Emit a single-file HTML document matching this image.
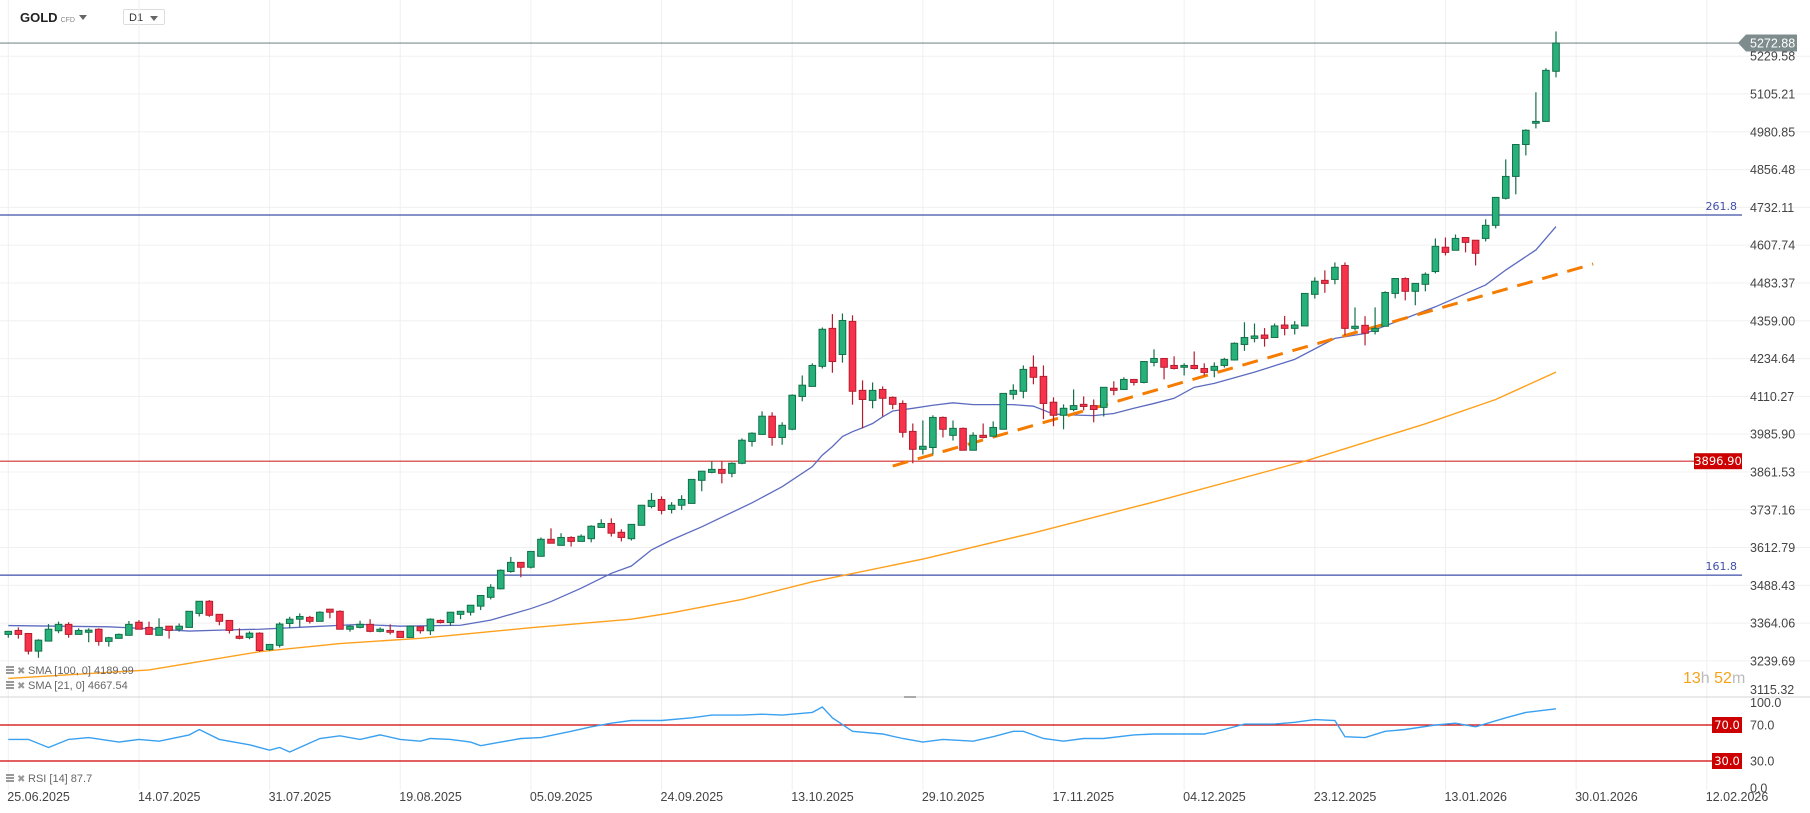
<!DOCTYPE html>
<html><head><meta charset="utf-8">
<style>
html,body{margin:0;padding:0;background:#fff;}
body{width:1810px;height:813px;overflow:hidden;position:relative;font-family:"Liberation Sans",sans-serif;}
#hdr{position:absolute;left:0;top:0;height:34px;width:300px;}
.sym{position:absolute;left:20px;top:10px;font-size:13px;font-weight:bold;color:#222;}
.sym small{font-size:7px;color:#888;font-weight:normal;margin-left:3px;}
.dd{position:absolute;left:79px;top:15px;width:0;height:0;border-left:4px solid transparent;border-right:4px solid transparent;border-top:5px solid #666;}
.tf{position:absolute;left:123px;top:9px;width:42px;height:16px;border:1px solid #ddd;border-radius:2px;font-size:11px;color:#333;line-height:16px;padding-left:5px;box-sizing:border-box;}
.tf:after{content:"";position:absolute;right:6px;top:6px;border-left:4px solid transparent;border-right:4px solid transparent;border-top:5px solid #666;}
svg{position:absolute;left:0;top:0;}
</style></head>
<body>
<div id="hdr">
  <div class="sym">GOLD<small>CFD</small></div>
  <div class="dd"></div>
  <div class="tf">D1</div>
</div>
<svg id="chart" width="1810" height="813"></svg>
<script>
const opens=[3327,3340,3330,3272,3305,3339,3360,3327,3334,3344,3304,3314,3324,3367,3350,3324,3354,3344,3350,3396,3436,3393,3373,3321,3317,3331,3277,3291,3363,3377,3383,3370,3410,3403,3344,3350,3360,3337,3340,3337,3317,3352,3339,3373,3366,3393,3400,3420,3449,3477,3534,3564,3548,3584,3640,3620,3646,3633,3642,3679,3692,3663,3642,3686,3748,3771,3738,3752,3758,3834,3860,3870,3857,3890,3962,3985,4045,3975,4002,4110,4143,4209,4334,4248,4357,4130,4097,4133,4107,4087,3995,3936,3942,4041,3982,4005,3933,3982,3979,4002,4117,4127,4206,4176,4091,4048,4067,4084,4080,4074,4137,4133,4166,4156,4222,4235,4212,4206,4212,4202,4196,4212,4230,4281,4301,4312,4304,4345,4334,4342,4446,4492,4495,4541,4334,4344,4324,4341,4449,4498,4456,4479,4521,4601,4591,4633,4624,4630,4673,4762,4834,4939,5009,5015,5180];
const highs=[3337,3350,3330,3311,3361,3369,3367,3347,3347,3347,3319,3330,3371,3374,3369,3380,3354,3363,3403,3436,3440,3393,3373,3347,3337,3334,3294,3367,3385,3396,3388,3403,3410,3406,3357,3372,3377,3350,3360,3337,3356,3352,3380,3376,3400,3403,3423,3455,3492,3541,3582,3564,3600,3646,3676,3660,3650,3656,3686,3706,3709,3673,3689,3752,3792,3781,3762,3785,3837,3864,3896,3896,3893,3972,3992,4061,4058,4025,4117,4179,4219,4337,4381,4383,4377,4163,4156,4143,4110,4097,4021,4031,4048,4044,4031,4008,3992,4021,4028,4120,4150,4212,4245,4212,4107,4084,4133,4110,4100,4140,4160,4173,4166,4225,4265,4235,4242,4219,4258,4219,4222,4237,4288,4354,4350,4335,4350,4375,4358,4449,4502,4525,4551,4551,4403,4374,4403,4456,4498,4502,4482,4518,4630,4633,4643,4633,4624,4693,4765,4890,4939,4989,5111,5190,5311];
const lows=[3316,3313,3261,3250,3305,3331,3316,3327,3301,3290,3287,3314,3324,3344,3325,3324,3313,3336,3350,3386,3385,3357,3330,3311,3311,3270,3273,3284,3347,3352,3363,3370,3380,3344,3336,3347,3334,3334,3327,3317,3317,3330,3325,3363,3355,3377,3389,3407,3442,3475,3530,3515,3544,3584,3627,3620,3616,3633,3630,3679,3649,3633,3636,3686,3742,3722,3725,3737,3758,3798,3857,3824,3844,3887,3945,3985,3948,3951,3999,4094,4143,4202,4188,4221,4083,4005,4071,4044,4068,3975,3890,3919,3919,3975,3965,3933,3933,3972,3979,4002,4100,4104,4150,4035,4012,4002,4061,4064,4025,4044,4114,4133,4146,4153,4209,4166,4199,4179,4199,4179,4173,4205,4228,4260,4288,4274,4304,4311,4314,4342,4432,4451,4479,4311,4327,4278,4314,4341,4433,4426,4410,4456,4515,4574,4591,4584,4541,4620,4663,4758,4775,4903,4992,5015,5160];
const closes=[3337,3327,3272,3308,3344,3360,3327,3340,3341,3304,3316,3327,3360,3344,3327,3350,3340,3354,3403,3436,3390,3370,3340,3314,3331,3274,3294,3361,3377,3386,3370,3400,3400,3344,3354,3360,3337,3344,3334,3317,3354,3339,3377,3366,3400,3403,3423,3455,3482,3538,3564,3548,3600,3640,3627,3646,3633,3650,3683,3692,3660,3646,3689,3752,3768,3735,3752,3771,3837,3864,3870,3857,3890,3966,3989,4045,3975,4015,4114,4147,4212,4331,4225,4360,4127,4100,4130,4104,4084,3992,3936,3946,4041,4002,4005,3933,3982,3975,4008,4120,4130,4199,4173,4087,4048,4071,4080,4077,4067,4140,4130,4166,4156,4225,4235,4206,4202,4212,4202,4189,4209,4232,4285,4304,4309,4301,4342,4334,4345,4449,4489,4482,4535,4334,4341,4318,4334,4452,4498,4456,4482,4512,4604,4584,4630,4617,4581,4673,4765,4834,4939,4986,5015,5183,5272.88];
const sma21Idx=[0,5,10,15,18,22,25,30,35,39,45,48,52,54,57,60,62,64,66,69,74,77,80,81,82,83,84,85,86,87,88,90,92,94,96,100,102,104,106,108,110,112,114,116,118,120,124,128,132,135,139,142,147,149,152,154];
const sma21Val=[3356,3354,3352,3344,3338,3342,3344,3352,3360,3354,3357,3374,3412,3435,3479,3528,3552,3605,3638,3681,3760,3813,3879,3917,3945,3978,3994,4007,4021,4043,4062,4071,4081,4089,4083,4083,4078,4052,4049,4047,4054,4071,4087,4104,4140,4153,4190,4232,4301,4317,4367,4405,4477,4526,4592,4669];
const sma100Idx=[0,14,25,33,41,52,62,66,73,80,91,102,114,129,141,148,154];
const sma100Val=[3182,3210,3270,3297,3314,3349,3377,3398,3442,3500,3575,3661,3763,3897,4020,4100,4190];
const rsiIdx=[0,2,4,6,8,11,13,15,18,19,21,24,26,27,28,29,31,33,35,37,39,41,42,44,46,47,49,51,53,56,58,60,62,65,68,70,73,75,77,80,81,82,84,87,89,91,93,96,98,100,101,103,105,107,109,112,114,116,119,121,123,126,128,130,132,133,135,137,139,142,144,146,149,151,154];
const rsiVal=[54,54,45,54,56,51,54,52,59,65,54,48,42,45,40,45,55,58,54,59,54,52,55,54,51,47,51,55,56,63,68,72,75,75,78,81,81,82,81,84,90,78,63,60,55,51,54,52,57,63,63,55,52,55,55,59,60,60,60,65,71,71,73,76,75,57,56,63,65,70,72,68,78,84,88];
const priceTicks=[5229.58,5105.21,4980.85,4856.48,4732.11,4607.74,4483.37,4359.00,4234.64,4110.27,3985.90,3861.53,3737.16,3612.79,3488.43,3364.06,3239.69,3115.32];
const dateLabels=["25.06.2025","14.07.2025","31.07.2025","19.08.2025","05.09.2025","24.09.2025","13.10.2025","29.10.2025","17.11.2025","04.12.2025","23.12.2025","13.01.2026","30.01.2026","12.02.2026"];
const rsiTicks=[100,70,30,0];
const lastPrice=5272.88, supportLevel=3896.90, fib2618=4707, fib1618=3522;
const trendStart=[88,3881], trendEnd=[157.7,4546];

const NS="http://www.w3.org/2000/svg";
const svg=document.getElementById('chart');
const PLOT_R=1742, MAIN_B=697;
function xS(i){return 8.3+10.05*i;}
function yS(p){return 94+(5105.21-p)*0.3039;}
function yR(v){return 788-0.9*v;}
function mk(tag,attrs,parent){const e=document.createElementNS(NS,tag);for(const k in attrs)e.setAttribute(k,attrs[k]);(parent||svg).appendChild(e);return e;}

// grid
const grid=mk('g',{});


priceTicks.forEach(p=>{const y=yS(p);if(y<MAIN_B-2){const l=mk('line',{x1:0,x2:1810,y1:y,y2:y,stroke:'#f0f0f0','stroke-width':1},grid);}});
dateLabels.forEach((d,k)=>{const x=xS(13*k);const l=mk('line',{x1:x,x2:x,y1:0,y2:790,stroke:'#f0f0f0','stroke-width':1},grid);});
[70,30].forEach(v=>{});
// rsi panel separator
const sep=mk('line',{x1:0,x2:1810,y1:MAIN_B,y2:MAIN_B,stroke:'#d6d6d6','stroke-width':1});


const hnd=mk('rect',{x:904,y:696,width:12,height:2,fill:'#aaa'});



// horizontal levels
function hline(p,color,w,name){const y=yS(p);const l=mk('line',{x1:0,x2:PLOT_R,y1:y,y2:y,stroke:color,'stroke-width':w});return y;}
const yLast=hline(lastPrice,'#7f8c8d',1.2,'last-price-line');
const yFibA=hline(fib2618,'#3f4fa8',1.2,'fib-261-8-line');
const yFibB=hline(fib1618,'#3f4fa8',1.2,'fib-161-8-line');
const ySup=hline(supportLevel,'#d32f2f',1.2,'support-line-3896');

// SMA100
function poly(idx,val,color,w,name){const pts=idx.map((i,k)=>xS(i)+','+yS(val[k])).join(' ');const p=mk('polyline',{points:pts,fill:'none',stroke:color,'stroke-width':w});}
poly(sma100Idx,sma100Val,'#ffa01c',1.4,'sma-100-line');
poly(sma21Idx,sma21Val,'#5c6bc0',1.3,'sma-21-line');

// trend line
const tl=mk('line',{x1:xS(trendStart[0]),y1:yS(trendStart[1]),x2:xS(trendEnd[0]),y2:yS(trendEnd[1]),stroke:'#f57c00','stroke-width':3,'stroke-dasharray':'16 10'});



// candles
const cg=mk('g',{});


closes.forEach((c,i)=>{
  const o=opens[i],h=highs[i],l=lows[i];const up=c>=o;
  const fill=up?'#26b07a':'#f7334b',st=up?'#137048':'#b51d2e';
  const x=xS(i);const g=mk('g',{},cg);
  
  
  mk('line',{x1:x,x2:x,y1:yS(h),y2:yS(l),stroke:st,'stroke-width':1.2},g);
  const t=yS(Math.max(o,c)),b=yS(Math.min(o,c));
  mk('rect',{x:x-3.3,y:t,width:6.6,height:Math.max(1.5,b-t),fill:fill,stroke:st,'stroke-width':1},g);
});

// price axis labels
priceTicks.forEach(p=>{let y=yS(p)+4.5;if(y>694)y=694;const t=mk('text',{x:1750,y:y,'font-size':12.5,fill:'#444','font-family':'Liberation Sans, sans-serif'});t.textContent=p.toFixed(2);});
// last price tag
const tag=mk('path',{d:`M1738 ${yLast} L1746 ${yLast-8.5} L1797 ${yLast-8.5} L1797 ${yLast+8.5} L1746 ${yLast+8.5} Z`,fill:'#7f8c8d'});


const tt=mk('text',{x:1750,y:yLast+4.5,'font-size':12.5,fill:'#fff'});tt.textContent='5272.88';


// support tag
const sr=mk('rect',{x:1694,y:ySup-8,width:48,height:16,fill:'#cc0000'});


const st2=mk('text',{x:1718,y:ySup+4,'font-size':11.5,fill:'#fff','text-anchor':'middle','font-family':'DejaVu Sans, sans-serif'});st2.textContent='3896.90';


// fib labels
[[yFibA,'261.8'],[yFibB,'161.8']].forEach(a=>{const t=mk('text',{x:1737,y:a[0]-5,'font-size':11,fill:'#3f4fa8','text-anchor':'end','font-family':'DejaVu Sans, sans-serif'});t.textContent=a[1];});
// countdown
const cd=mk('text',{x:1683,y:683,'font-size':16});


cd.innerHTML='<tspan fill="#f7a21b">13</tspan><tspan fill="#bbb">h </tspan><tspan fill="#f7a21b">52</tspan><tspan fill="#bbb">m</tspan>';

// legends
function legend(y,txt,name){const g=mk('g',{});
 mk('rect',{x:6,y:y-8,width:8,height:2,fill:'#999'},g);mk('rect',{x:6,y:y-5,width:8,height:2,fill:'#999'},g);mk('rect',{x:6,y:y-2,width:8,height:2,fill:'#999'},g);
 const x=mk('text',{x:17,y:y,'font-size':10,fill:'#999'},g);x.textContent='✖';
 const t=mk('text',{x:28,y:y,'font-size':11,fill:'#666'},g);t.textContent=txt;}
legend(674,'SMA [100, 0] 4189.99','legend-sma-100');
legend(689,'SMA [21, 0] 4667.54','legend-sma-21');
legend(782,'RSI [14] 87.7','legend-rsi');

// RSI panel
[70,30].forEach(v=>{const y=yR(v);const l=mk('line',{x1:0,x2:PLOT_R,y1:y,y2:y,stroke:'#d00000','stroke-width':1.2});
 const r=mk('rect',{x:1712,y:y-8,width:30,height:16,fill:'#cc0000'});
 const t=mk('text',{x:1727,y:y+4,'font-size':11.5,fill:'#fff','text-anchor':'middle','font-family':'DejaVu Sans, sans-serif'});t.textContent=v.toFixed(1);});
const rp=mk('polyline',{points:rsiIdx.map((i,k)=>xS(i)+','+yR(rsiVal[k])).join(' '),fill:'none',stroke:'#3aa0f0','stroke-width':1.4});


rsiTicks.forEach(v=>{let y=yR(v)+4.5;if(v===100)y=yR(v)+9;const t=mk('text',{x:1750,y:y,'font-size':12.5,fill:'#444'});t.textContent=v.toFixed(1);});

// date labels
dateLabels.forEach((d,k)=>{const t=mk('text',{x:xS(13*k)-1,y:801,'font-size':12.5,fill:'#444'});t.textContent=d;});
</script>
</body></html>
